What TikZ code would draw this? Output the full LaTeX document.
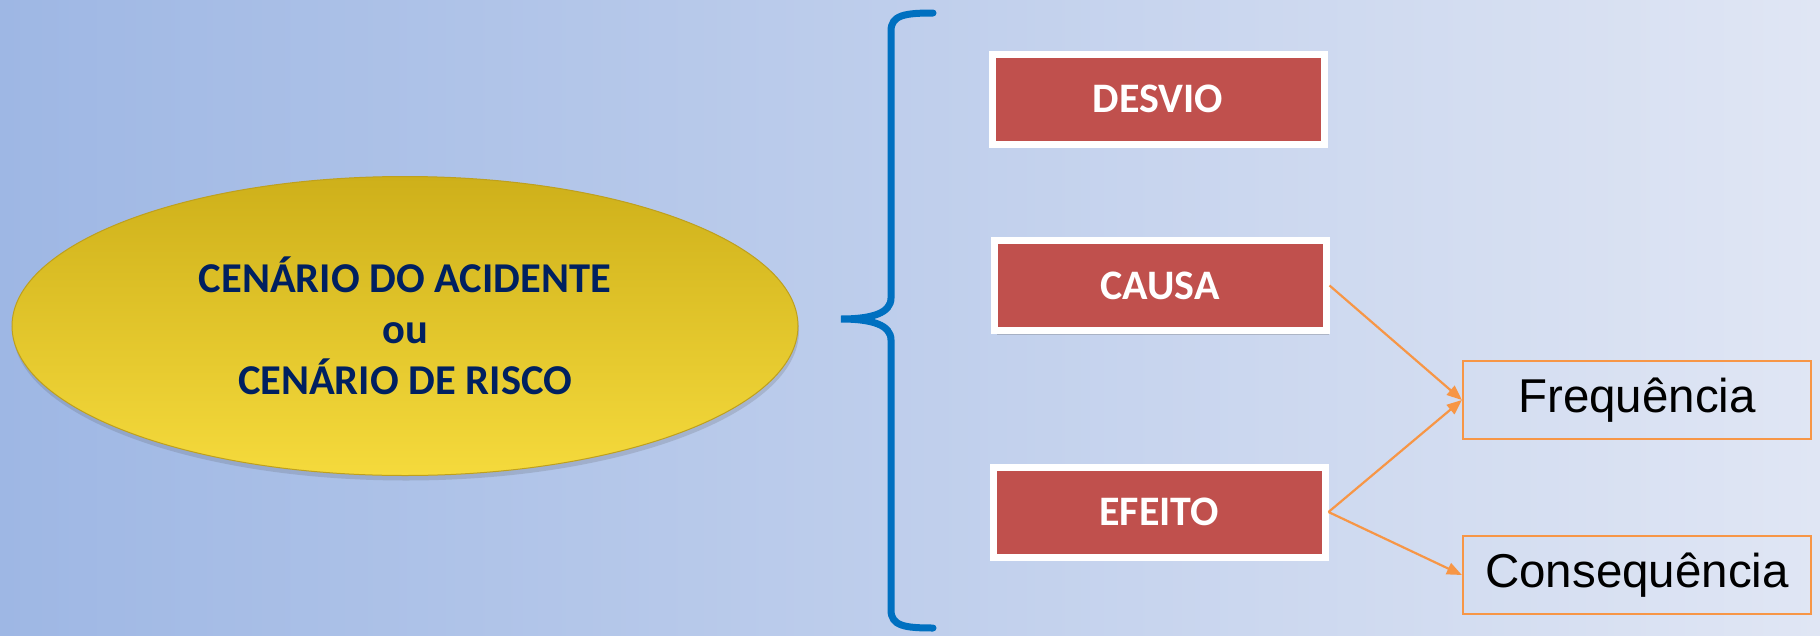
\documentclass[tikz,border=0pt]{standalone}
\usepackage{fontspec}
\setmainfont{Carlito}
\newfontfamily\arialfont{Liberation Sans}
\usetikzlibrary{shapes.geometric,arrows.meta,shadows}
\definecolor{bgleft}{RGB}{158,183,228}
\definecolor{bgright}{RGB}{224,230,244}
\definecolor{goldtop}{RGB}{206,176,26}
\definecolor{goldbot}{RGB}{245,218,60}
\definecolor{goldedge}{RGB}{190,160,30}
\definecolor{navy}{RGB}{0,32,96}
\definecolor{bracecol}{RGB}{0,112,192}
\definecolor{redbox}{RGB}{192,80,77}
\definecolor{orangec}{RGB}{247,150,70}
\tikzset{
  redbox/.style={draw=white, line width=7pt, fill=redbox, minimum width=332pt, minimum height=90pt,
    inner sep=0pt, text=white, font=\bfseries\fontsize{42}{50}\selectfont,
    drop shadow={shadow xshift=3pt, shadow yshift=-4pt, opacity=0.3, fill=black!60}},
  orbox/.style={draw=orangec, line width=2.2pt, minimum width=348pt, minimum height=78pt,
    inner sep=0pt, font=\arialfont\fontsize{47.5}{54}\selectfont, text=black},
  arr/.style={draw=orangec, line width=2.2pt, -{Triangle[length=15pt,width=12pt]}},
  bracestyle/.style={draw=bracecol, line width=7pt, line cap=round},
}
\begin{document}
\begin{tikzpicture}[x=1pt,y=-1pt]
\useasboundingbox (0,0) rectangle (1820,635);
\shade[left color=bgleft, right color=bgright] (0,0) rectangle (1820,635);
% ellipse
\node[ellipse, minimum width=786pt, minimum height=299pt, top color=goldtop, bottom color=goldbot,
  draw=goldedge, line width=1pt, align=center, text=navy, inner sep=0pt,
  font=\bfseries\fontsize{42.5}{51}\selectfont,
  drop shadow={shadow xshift=1pt, shadow yshift=-5pt, opacity=0.18, fill=black!70}]
  (cen) at (405,326) {CENÁRIO DO ACIDENTE\\ou\\CENÁRIO DE RISCO};
% brace
\draw[bracestyle] (933,13) .. controls (905,13) and (891,15) .. (891,31) -- (891,298)
  .. controls (891,313) and (872,319) .. (841,319)
  .. controls (872,319) and (891,325) .. (891,340) -- (891,610)
  .. controls (891,626) and (905,628) .. (933,628);
% red boxes
\node[redbox] (desvio) at (1158,99) {DESVIO};
\node[redbox] (causa) at (1160,285.5) {CAUSA};
\node[redbox] (efeito) at (1159,512) {EFEITO};
% orange boxes
\node[orbox] (freq) at (1637,400) {Frequência};
\node[orbox] (cons) at (1637,575) {Consequência};
% arrows
\draw[arr] (causa.east) -- (freq.west);
\draw[arr] (efeito.east) -- (freq.west);
\draw[arr] (efeito.east) -- (cons.west);
\end{tikzpicture}
\end{document}
